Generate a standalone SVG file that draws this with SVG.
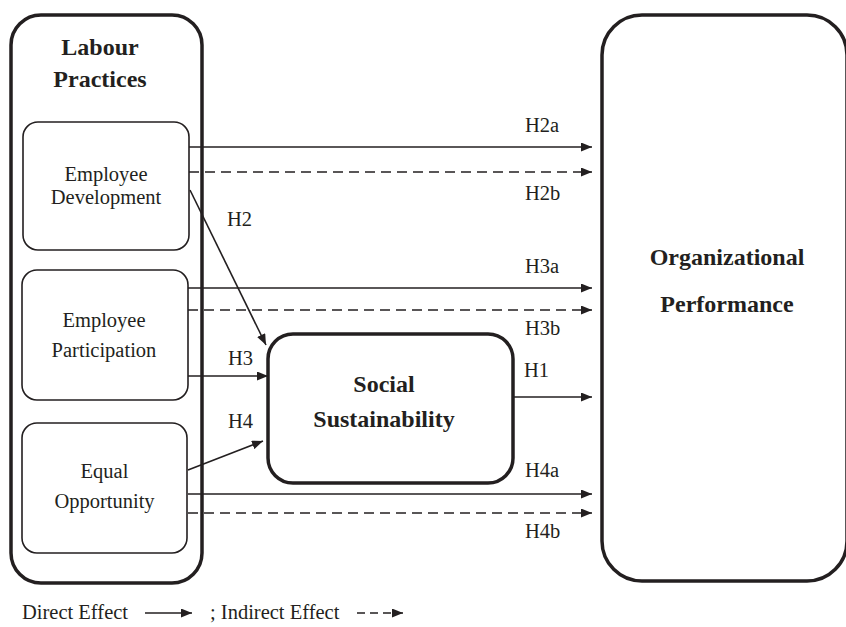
<svg xmlns="http://www.w3.org/2000/svg" width="846" height="627" viewBox="0 0 846 627">
<style>
text{font-family:"Liberation Serif","Times New Roman",serif;fill:#231f20;}
.t{font-size:20.5px;text-anchor:middle;}
.h{font-size:20.5px;}
.b{font-size:24px;font-weight:bold;text-anchor:middle;}
.big{fill:none;stroke:#231f20;stroke-width:3.5;}
.sub{fill:none;stroke:#231f20;stroke-width:1.6;}
.c{stroke:#231f20;stroke-width:1.6;fill:none;}
.d{stroke-dasharray:10 6;}
</style>
<defs>
<marker id="ah" markerWidth="11" markerHeight="9" refX="11" refY="4.5" orient="auto" markerUnits="userSpaceOnUse">
<path d="M0,0 L11,4.5 L0,9 Z" fill="#231f20"/>
</marker>
</defs>
<rect width="846" height="627" fill="#fff"/>
<g id="labour">
<rect class="big" x="11" y="15" width="191" height="568" rx="30"/>
<text class="b" x="100" y="55">Labour</text>
<text class="b" x="100" y="87">Practices</text>
</g>
<g id="dev">
<rect class="sub" x="23" y="122" width="166" height="128" rx="15"/>
<text class="t" x="106" y="181">Employee</text>
<text class="t" x="106" y="204">Development</text>
</g>
<g id="part">
<rect class="sub" x="22" y="270" width="166" height="130" rx="15"/>
<text class="t" x="104" y="327">Employee</text>
<text class="t" x="104" y="357">Participation</text>
</g>
<g id="equal">
<rect class="sub" x="22" y="423" width="165" height="130" rx="15"/>
<text class="t" x="104.5" y="478">Equal</text>
<text class="t" x="104.5" y="508">Opportunity</text>
</g>
<g id="social">
<rect class="big" x="268" y="334" width="245" height="149" rx="25"/>
<text class="b" x="384" y="392">Social</text>
<text class="b" x="384" y="427">Sustainability</text>
</g>
<g id="org">
<rect class="big" x="602" y="15" width="245" height="566" rx="40"/>
<text class="b" x="727" y="265">Organizational</text>
<text class="b" x="727" y="312">Performance</text>
</g>
<g id="connectors">
<line class="c" x1="189" y1="147" x2="592" y2="147" marker-end="url(#ah)"/>
<line class="c d" x1="189" y1="172" x2="592" y2="172" marker-end="url(#ah)"/>
<line class="c" x1="188" y1="288" x2="592" y2="288" marker-end="url(#ah)"/>
<line class="c d" x1="188" y1="310" x2="592" y2="310" marker-end="url(#ah)"/>
<line class="c" x1="188" y1="494" x2="592" y2="494" marker-end="url(#ah)"/>
<line class="c d" x1="188" y1="513" x2="592" y2="513" marker-end="url(#ah)"/>
<line class="c" x1="190" y1="190" x2="266" y2="345" marker-end="url(#ah)"/>
<line class="c" x1="188" y1="376" x2="268" y2="376" marker-end="url(#ah)"/>
<line class="c" x1="188" y1="470" x2="263" y2="441" marker-end="url(#ah)"/>
<line class="c" x1="513" y1="397" x2="592" y2="397" marker-end="url(#ah)"/>
<text class="h" x="525" y="132">H2a</text>
<text class="h" x="525" y="200">H2b</text>
<text class="h" x="227" y="226">H2</text>
<text class="h" x="525" y="273">H3a</text>
<text class="h" x="525" y="335">H3b</text>
<text class="h" x="228" y="365">H3</text>
<text class="h" x="524" y="377">H1</text>
<text class="h" x="228" y="428">H4</text>
<text class="h" x="525" y="477">H4a</text>
<text class="h" x="525" y="538">H4b</text>
</g>
<g id="legend">
<text class="h" x="22" y="619">Direct Effect</text>
<line class="c" x1="145" y1="613" x2="192" y2="613" marker-end="url(#ah)"/>
<text class="h" x="210" y="619">; Indirect Effect</text>
<line class="c" x1="357" y1="613" x2="403" y2="613" marker-end="url(#ah)" style="stroke-dasharray:8 5"/>
</g>
</svg>
